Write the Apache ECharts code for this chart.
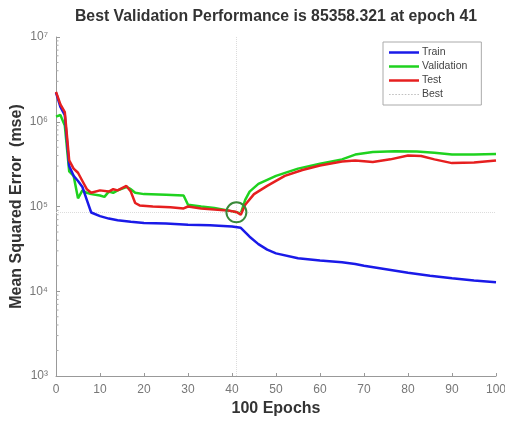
<!DOCTYPE html>
<html><head><meta charset="utf-8">
<script src="https://cdn.jsdelivr.net/npm/echarts@6/dist/echarts.min.js"></script>
<style>html,body{margin:0;padding:0;background:#fff}#c{width:505px;height:423px}</style>
</head><body><div id="c"></div>
<script>
const titleText = 'Best Validation Performance is 85358.321 at epoch 41';
const xName = '100 Epochs';
const yName = 'Mean Squared Error  (mse)';
const xTicks = [0,10,20,30,40,50,60,70,80,90,100];
const bestEpoch = 41;
const bestValue = 85358.321;

const trainEpochs = [0,1,2,3,4,5,6,7,8,10,12,14,17,20,25,30,35,40,42,44,46,48,50,55,60,65,68,70,75,80,85,90,95,100];
const trainValues = [2.2e6,1.5e6,1.2e6,3.0e5,2.3e5,2.0e5,1.7e5,1.2e5,8.5e4,7.7e4,7.2e4,6.9e4,6.6e4,6.4e4,6.3e4,6.1e4,6.0e4,5.8e4,5.6e4,4.4e4,3.6e4,3.1e4,2.8e4,2.45e4,2.3e4,2.2e4,2.1e4,2.0e4,1.82e4,1.65e4,1.52e4,1.42e4,1.34e4,1.28e4];

const valEpochs = [0,1,2,3,4,5,6,7,8,10,11,12,13,14,16,17,18,20,25,29,30,33,36,39,41,42,43,44,46,50,55,60,65,68,72,77,82,86,90,95,100];
const valValues = [1.15e6,1.2e6,9e5,2.6e5,2.3e5,1.25e5,1.55e5,1.45e5,1.4e5,1.35e5,1.3e5,1.5e5,1.45e5,1.55e5,1.7e5,1.6e5,1.45e5,1.4e5,1.38e5,1.35e5,1.05e5,1.0e5,9.6e4,9.0e4,85358.321,8.3e4,1.2e5,1.5e5,1.85e5,2.3e5,2.8e5,3.2e5,3.6e5,4.1e5,4.4e5,4.5e5,4.45e5,4.3e5,4.1e5,4.1e5,4.15e5];

const testEpochs = [0,1,2,3,4,5,6,7,8,10,12,13,14,16,17,18,19,22,26,29,30,33,36,39,41,42,43,45,48,52,56,60,65,68,72,76,80,83,86,90,95,100];
const testValues = [2.25e6,1.6e6,1.3e6,3.5e5,2.8e5,2.5e5,2.0e5,1.6e5,1.45e5,1.55e5,1.5e5,1.6e5,1.55e5,1.75e5,1.5e5,1.1e5,1.03e5,1.0e5,9.8e4,9.5e4,1.0e5,9.5e4,9.2e4,9.0e4,8.6e4,8.0e4,1.05e5,1.4e5,1.75e5,2.3e5,2.7e5,3.05e5,3.4e5,3.5e5,3.35e5,3.6e5,4.0e5,3.95e5,3.6e5,3.25e5,3.3e5,3.5e5];

const decades = [1e3,1e4,1e5,1e6];
const minorMultipliers = [2,3,4,5,6,7,8,9];

function pairs(xs, ys){ return xs.map((x,i)=>[x, ys[i]]); }
const minorTickData = [];
decades.forEach(d => minorMultipliers.forEach(m => minorTickData.push([0, d*m])));

const chart = echarts.init(document.getElementById('c'), null, {renderer:'canvas'});
const FONT = '"Liberation Sans", Arial, sans-serif';
const sup = {'0':'⁰','1':'¹','2':'²','3':'³','4':'⁴','5':'⁵','6':'⁶','7':'⁷','8':'⁸','9':'⁹'};
const lineIcon = 'path://M0,0h30v2.5h-30z';
const dotIcon = 'path://M0,0h1.5v1h-1.5z M3,0h1.5v1h-1.5z M6,0h1.5v1h-1.5z M9,0h1.5v1h-1.5z M12,0h1.5v1h-1.5z M15,0h1.5v1h-1.5z M18,0h1.5v1h-1.5z M21,0h1.5v1h-1.5z M24,0h1.5v1h-1.5z M27,0h1.5v1h-1.5z';

chart.setOption({
  animation: false,
  backgroundColor: '#fff',
  title: {
    text: titleText, left: 271, top: 4, textAlign: 'center',
    textStyle: {fontFamily: FONT, fontSize: 15.8, fontWeight: 'bold', color: '#333'}
  },
  grid: {left: 56, right: 9, top: 37, bottom: 47, containLabel: false, outerBoundsMode: 'none'},
  legend: {
    orient: 'vertical', left: 383, top: 42,
    backgroundColor: '#fff', borderColor: '#aaa', borderWidth: 1,
    padding: [5, 14, 5, 6], itemGap: 3, itemWidth: 30, itemHeight: 13,
    textStyle: {fontFamily: FONT, fontSize: 10.5, color: '#444', padding: [0,0,0,-2]},
    symbolKeepAspect: true,
    data: [
      {name: 'Train', icon: lineIcon},
      {name: 'Validation', icon: lineIcon},
      {name: 'Test', icon: lineIcon},
      {name: 'Best', icon: dotIcon}
    ]
  },
  xAxis: {
    type: 'value', min: 0, max: 100, interval: 10,
    name: xName, nameLocation: 'middle', nameGap: 25, nameMoveOverlap: false,
    nameTextStyle: {fontFamily: FONT, fontSize: 16, fontWeight: 'bold', color: '#333'},
    axisLine: {lineStyle: {color: '#999'}},
    axisTick: {inside: true, length: 3, lineStyle: {color: '#999'}},
    axisLabel: {fontFamily: FONT, fontSize: 12, color: '#777', margin: 8,
      formatter: v => xTicks.includes(v) ? String(v) : ''},
    splitLine: {show: false}
  },
  yAxis: {
    type: 'log', logBase: 10, min: 1e3, max: 1e7,
    name: yName, nameLocation: 'middle', nameGap: 31, nameRotate: 90, nameMoveOverlap: false,
    nameTextStyle: {fontFamily: FONT, fontSize: 16, fontWeight: 'bold', color: '#333'},
    axisLine: {show: true, lineStyle: {color: '#999'}},
    axisTick: {inside: true, length: 4, lineStyle: {color: '#999'}},
    axisLabel: {fontFamily: FONT, fontSize: 12, color: '#777', margin: 8,
      formatter: v => '10' + String(Math.round(Math.log10(v))).split('').map(c=>sup[c]).join('')},
    splitLine: {show: false}
  },
  series: [
    {name: 'Train', type: 'line', data: pairs(trainEpochs, trainValues), symbol: 'none',
      lineStyle: {color: '#1a1ae8', width: 2.5}, itemStyle: {color: '#1a1ae8'}, z: 5},
    {name: 'Validation', type: 'line', data: pairs(valEpochs, valValues), symbol: 'none',
      lineStyle: {color: '#1fd21f', width: 2.5}, itemStyle: {color: '#1fd21f'}, z: 4},
    {name: 'Test', type: 'line', data: pairs(testEpochs, testValues), symbol: 'none',
      lineStyle: {color: '#e61f1f', width: 2.5}, itemStyle: {color: '#e61f1f'}, z: 6},
    {name: 'Best', type: 'line', data: [], symbol: 'none',
      lineStyle: {color: '#c8c8c8', width: 1, type: 'dotted'}, itemStyle: {color: '#c0c0c0'},
      markLine: {silent: true, symbol: 'none', label: {show: false},
        lineStyle: {color: '#dcdcdc', width: 1, type: 'dotted'},
        data: [{xAxis: bestEpoch}, {yAxis: bestValue}]}, z: 1},
    {name: 'bestCircle', type: 'scatter', data: [[bestEpoch, bestValue]], symbol: 'circle', symbolSize: 20,
      itemStyle: {color: 'rgba(255,255,255,0)', borderColor: '#3a8a3a', borderWidth: 2, opacity: 1}, z: 7, silent: true},
    {name: 'minorTicks', type: 'custom', data: minorTickData, silent: true, z: 2,
      renderItem: (params, api) => {
        const p = api.coord([api.value(0), api.value(1)]);
        return {type: 'line', shape: {x1: p[0], y1: p[1], x2: p[0] + 2.5, y2: p[1]},
          style: {stroke: '#aaa', lineWidth: 1}};
      }}
  ]
});
</script></body></html>
